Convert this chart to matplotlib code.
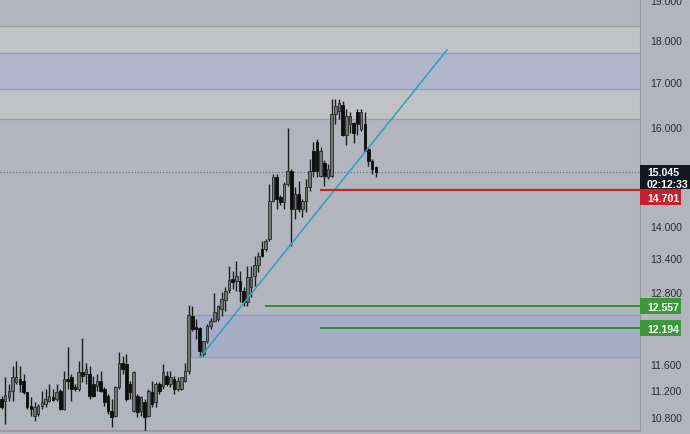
import numpy as np
import matplotlib
matplotlib.use("Agg")
import matplotlib.pyplot as plt
from matplotlib.patches import Rectangle
from matplotlib.transforms import IdentityTransform
from matplotlib.ticker import FixedLocator, NullLocator, FuncFormatter

# OHLC (one candle per bar, left to right)
opens = [11.07, 11.04, 11.10, 11.19, 11.33, 11.37, 11.34, 11.17, 10.96, 10.82,
         10.85, 10.96, 11.00, 11.04, 11.10, 11.07, 11.19, 10.92, 11.38, 11.40,
         11.25, 11.22, 11.48, 11.45, 11.45, 11.30, 11.27, 11.34, 11.22, 11.11,
         10.89, 10.82, 11.25, 11.63, 11.60, 11.30, 10.89, 11.11, 10.89, 11.02,
         10.82, 11.17, 11.02, 11.30, 11.27, 11.42, 11.30, 11.37, 11.22, 11.22,
         11.34, 11.50, 12.38, 12.20, 12.19, 11.76, 11.97, 12.22, 12.30, 12.33,
         12.50, 12.65, 12.83, 13.02, 12.99, 12.99, 12.81, 12.63, 12.88, 13.07,
         13.27, 13.56, 13.56, 13.75, 14.47, 14.95, 14.55, 14.45, 14.81, 15.07,
         14.32, 14.61, 14.32, 14.47, 14.75, 15.49, 15.68, 14.97, 15.24, 14.95,
         14.97, 16.28, 16.35, 16.48, 15.82, 16.06, 16.08, 16.33, 15.95, 16.06,
         15.53, 15.28, 15.15]
highs = [11.11, 11.40, 11.30, 11.57, 11.65, 11.57, 11.45, 11.18, 11.10, 11.02,
         11.00, 11.19, 11.22, 11.30, 11.22, 11.30, 11.22, 11.50, 11.87, 11.45,
         11.30, 11.65, 12.03, 11.63, 11.57, 11.42, 11.45, 11.50, 11.25, 11.14,
         11.07, 11.27, 11.79, 11.73, 11.76, 11.34, 11.50, 11.14, 11.11, 11.07,
         11.22, 11.34, 11.33, 11.33, 11.60, 11.50, 11.50, 11.42, 11.40, 11.41,
         11.63, 12.57, 12.55, 12.33, 12.20, 11.98, 12.25, 12.36, 12.78, 12.58,
         12.80, 12.88, 13.26, 13.16, 13.34, 13.16, 12.88, 13.26, 13.26, 13.43,
         13.50, 13.71, 13.75, 14.81, 15.01, 15.01, 14.60, 14.85, 15.97, 15.11,
         14.75, 14.87, 14.51, 14.91, 15.32, 15.68, 15.74, 15.57, 15.30, 15.21,
         16.62, 16.62, 16.62, 16.57, 16.39, 16.33, 16.10, 16.39, 16.39, 16.33,
         15.57, 15.32, 15.17]
lows = [10.92, 10.70, 11.04, 11.04, 11.30, 11.17, 11.14, 10.92, 10.82, 10.74,
        10.82, 10.92, 10.95, 11.02, 11.04, 11.04, 10.90, 10.90, 11.22, 11.04,
        11.19, 11.19, 11.33, 11.30, 11.07, 11.10, 11.19, 11.17, 10.96, 10.85,
        10.66, 10.80, 11.22, 11.45, 11.04, 11.07, 10.87, 10.80, 10.82, 10.56,
        10.80, 10.95, 10.95, 11.14, 11.22, 11.27, 11.25, 11.14, 11.19, 11.21,
        11.33, 11.45, 12.14, 12.00, 11.71, 11.73, 11.94, 12.17, 12.28, 12.30,
        12.38, 12.47, 12.78, 12.85, 12.81, 12.63, 12.55, 12.55, 12.71, 12.90,
        13.14, 13.41, 13.52, 13.71, 14.45, 14.32, 14.40, 14.32, 14.77, 13.62,
        14.12, 14.26, 14.16, 14.26, 14.67, 14.95, 14.95, 14.95, 14.77, 14.91,
        14.95, 16.06, 16.17, 15.80, 15.61, 15.87, 15.66, 15.82, 15.91, 15.49,
        15.17, 15.01, 14.95]
closes = [10.95, 11.13, 11.19, 11.40, 11.40, 11.30, 11.17, 10.95, 10.92, 10.95,
          10.96, 11.02, 11.07, 11.11, 11.05, 11.17, 10.92, 11.37, 11.35, 11.22,
          11.22, 11.48, 11.42, 11.53, 11.11, 11.11, 11.34, 11.19, 11.02, 10.89,
          10.80, 11.25, 11.63, 11.53, 11.07, 11.17, 11.48, 10.87, 11.10, 10.80,
          11.19, 10.99, 11.30, 11.19, 11.48, 11.30, 11.40, 11.22, 11.34, 11.40,
          11.50, 12.41, 12.17, 12.17, 11.81, 11.97, 12.22, 12.30, 12.45, 12.55,
          12.67, 12.81, 13.00, 12.97, 13.07, 12.81, 12.62, 13.05, 13.05, 13.27,
          13.43, 13.43, 13.71, 14.47, 14.95, 14.51, 14.45, 14.81, 15.07, 14.32,
          14.61, 14.32, 14.47, 14.75, 15.07, 15.07, 15.07, 15.49, 14.97, 15.11,
          16.28, 16.46, 16.53, 15.82, 16.24, 16.24, 15.87, 16.06, 16.33, 15.49,
          15.28, 15.11, 15.045]

# drawn levels and zones
y_ticks = [10.8, 11.2, 11.6, 12.8, 13.4, 14.0, 16.0, 17.0, 18.0, 19.0]
last_price = 15.045
countdown = "02:12:33"
red_level = 14.701
green_levels = [12.557, 12.194]
upper_zone = (16.17, 18.34)
upper_blue = (16.84, 17.69)
lower_zone = (11.71, 12.41)
trend_x = [54.1, 121.4]
trend_y = [11.71, 17.76]

plt.rcParams["font.family"] = ["Liberation Sans", "DejaVu Sans"]
bg = "#b2b5be"
fig = plt.figure(figsize=(6.9, 4.35), dpi=100)
fig.patch.set_facecolor(bg)
ax = fig.add_axes([0, 3 / 435, 640 / 690, 432 / 435])
ax.set_facecolor(bg)
ax.set_yscale("log")
ax.set_xlim(-0.41, 174.0)
ax.set_ylim(10.60, 19.03)

# zones
ax.axhspan(*upper_zone, color="#c1c2c6", zorder=0)
ax.axhline(upper_zone[0], color="#a1999c", lw=1, zorder=1)
ax.axhline(upper_zone[1], color="#a1999c", lw=1, zorder=1)
ax.axhspan(*upper_blue, color="#b0b5cb", zorder=1)
ax.axhline(upper_blue[0], color="#8e9dd0", lw=1, zorder=1)
ax.axhline(upper_blue[1], color="#8e9dd0", lw=1, zorder=1)
ax.add_patch(Rectangle((51.6, lower_zone[0]), 200, lower_zone[1] - lower_zone[0],
                       facecolor="#a6adc6", edgecolor="#8e9dd0", lw=1, zorder=1))

# candles
x = np.arange(len(opens))
o, h, l, c = map(np.array, (opens, highs, lows, closes))
up = c >= o
ax.vlines(x, l, h, color="#1c1c1c", lw=1, zorder=3)
bot = np.minimum(o, c)
top = np.maximum(np.maximum(o, c), bot * 1.002)
ax.bar(x[up], (top - bot)[up], bottom=bot[up], width=0.7,
       color="#747474", edgecolor="#2a2a2a", lw=0.6, zorder=4)
ax.bar(x[~up], (top - bot)[~up], bottom=bot[~up], width=0.7,
       color="#0e0e0e", edgecolor="#0e0e0e", lw=0.6, zorder=4)

# lines
ax.plot(trend_x, trend_y, color="#2aa3b8", lw=1.1, zorder=5)
ax.axhline(last_price, color="#6f727a", lw=0.9, ls=(0, (1, 1.5)), zorder=2)
ax.hlines(red_level, 86.8, 174, color="#c62828", lw=1.6, zorder=5)
ax.hlines(green_levels[0], 71.8, 174, color="#2e8b2e", lw=1.3, zorder=5)
ax.hlines(green_levels[1], 86.8, 174, color="#2e8b2e", lw=1.3, zorder=5)

# right price axis
ax.yaxis.tick_right()
ax.yaxis.set_major_locator(FixedLocator(y_ticks))
ax.yaxis.set_minor_locator(NullLocator())
ax.yaxis.set_major_formatter(FuncFormatter(lambda v, p: f"{v:.3f}"))
ax.tick_params(axis="y", length=0, pad=7, labelsize=7.6, labelcolor="#2a2e39")
ax.set_xticks([])
for s in ["top", "left"]:
    ax.spines[s].set_visible(False)
ax.spines["right"].set_color("#95989f")
ax.spines["bottom"].set_color("#a1999c")
ax.spines["bottom"].set_linewidth(1.5)


# price tags on the axis, placed in pixels
def ypix(v):
    return ax.transData.transform((0, v))[1]


def tag(y_top, height, width, color, lines):
    fig.add_artist(Rectangle((640, y_top - height), width, height, transform=IdentityTransform(),
                             facecolor=color, edgecolor="none", zorder=10))
    step = height / len(lines)
    for k, s in enumerate(lines):
        fig.text(647 / 690, (y_top - step * (k + 0.5)) / 435, s, color="white",
                 fontsize=7.6, fontweight="bold", ha="left", va="center_baseline", zorder=11)


yl = ypix(last_price)
tag(yl + 7, 24, 50, "#131722", [f"{last_price:.3f}", countdown])
tag(yl - 17, 16, 41, "#c4232d", [f"{red_level:.3f}"])
for lv in green_levels:
    yg = ypix(lv)
    tag(yg + 8, 16, 41, "#3a9a3a", [f"{lv:.3f}"])

fig.savefig("out.png", dpi=100, facecolor=bg)
